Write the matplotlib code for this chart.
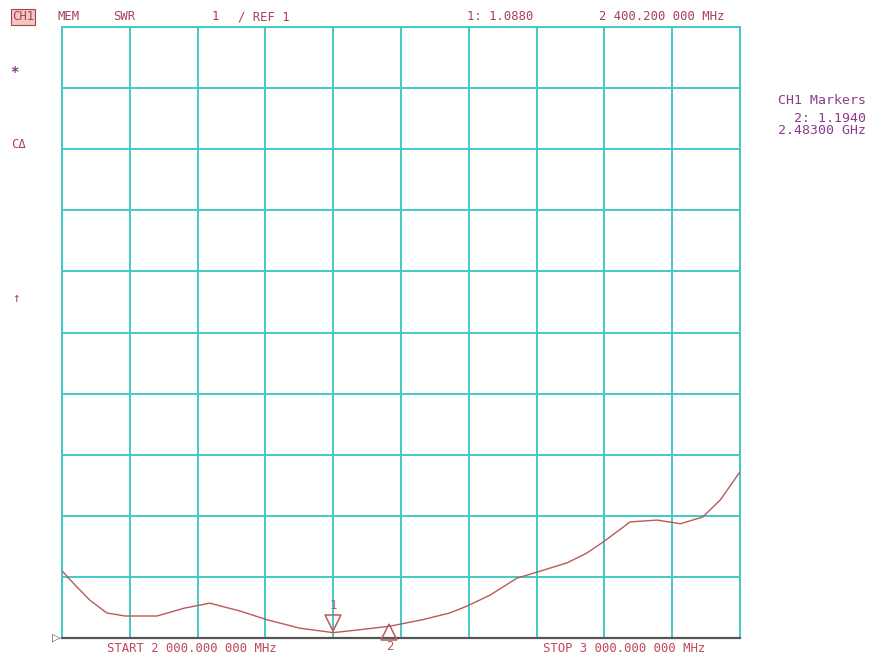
import numpy as np
import matplotlib
matplotlib.use('Agg')
import matplotlib.pyplot as plt

# SWR trace
freq_mhz = [2000, 2019, 2041, 2066, 2093, 2140, 2181, 2218, 2263, 2302, 2351,
            2400, 2435, 2484, 2532, 2572, 2597, 2631, 2671, 2701, 2745, 2774,
            2798, 2838, 2878, 2912, 2945, 2971, 3000]
swr = [2.10, 1.87, 1.62, 1.41, 1.36, 1.36, 1.49, 1.57, 1.44, 1.30, 1.16,
       1.088, 1.13, 1.194, 1.30, 1.41, 1.52, 1.70, 1.98, 2.08, 2.23, 2.39,
       2.57, 2.90, 2.93, 2.87, 2.98, 3.26, 3.72]

marker_freq = [2400.2, 2483.0]
marker_swr = [1.088, 1.194]

start_mhz, stop_mhz = 2000, 3000
ref_swr, per_div, n_div = 1, 1, 10

grid_c = '#45c8c8'
trace_c = '#b85a5a'
text_c = '#a8405c'
purple = '#8a3c8a'
mono = 'DejaVu Sans Mono'
fs = 8.8

fig = plt.figure(figsize=(8.8, 6.54), dpi=100)
ax = fig.add_axes([62 / 880, 16 / 654, 678 / 880, 611 / 654])

ax.set_xlim(start_mhz, stop_mhz)
ax.set_ylim(ref_swr, ref_swr + per_div * n_div)
ax.set_xticks(np.linspace(start_mhz, stop_mhz, n_div + 1))
ax.set_yticks(np.arange(ref_swr, ref_swr + per_div * n_div + 0.01, per_div))
ax.grid(True, color=grid_c, linewidth=1.4)
ax.tick_params(length=0, labelbottom=False, labelleft=False)
for side in ['top', 'left', 'right']:
    ax.spines[side].set_color(grid_c)
    ax.spines[side].set_linewidth(1.4)
ax.spines['bottom'].set_color('#555555')
ax.spines['bottom'].set_linewidth(1.6)
ax.spines['bottom'].set_zorder(5)

ax.plot(freq_mhz, swr, color=trace_c, linewidth=1.0, zorder=4)

# markers: 1 above the trace, 2 below
ax.plot(marker_freq[0], marker_swr[0] + 0.16, marker='v', markersize=11,
        markerfacecolor='none', markeredgecolor=trace_c, markeredgewidth=1.1,
        clip_on=False, zorder=6)
ax.text(marker_freq[0], marker_swr[0] + 0.44, '1', color=trace_c,
        fontsize=9, family=mono, ha='center', va='center', clip_on=False)
ax.plot(marker_freq[1], marker_swr[1] - 0.1, marker='^', markersize=11,
        markerfacecolor='none', markeredgecolor=trace_c, markeredgewidth=1.1,
        clip_on=False, zorder=6)
ax.text(marker_freq[1], marker_swr[1] - 0.33, '2', color=trace_c,
        fontsize=9, family=mono, ha='center', va='center', clip_on=False)

# reference pointer
fig.text(56 / 880, 1 - 638 / 654, '▷', color='#555555', fontsize=8,
         ha='center', va='center')

# header line
def top(x, s, ha='left', **kw):
    fig.text(x / 880, 1 - 17 / 654, s, color=text_c, fontsize=fs,
             family=mono, va='center', ha=ha, **kw)

top(12, 'CH1', bbox=dict(boxstyle='square,pad=0.1', facecolor='#f0c8c0',
                          edgecolor=text_c, linewidth=0.8))
top(57, 'MEM')
top(113, 'SWR')
top(212, '1')
top(238, '/ REF 1')
top(500, '1: 1.0880', ha='center')
top(662, '2 400.200 000 MHz', ha='center')

# left annotations
fig.text(14 / 880, 1 - 72 / 654, '*', color=purple, fontsize=10,
         family=mono, ha='center', va='center', weight='bold')
fig.text(18 / 880, 1 - 145 / 654, 'CΔ', color=text_c, fontsize=fs,
         family=mono, ha='center', va='center')
fig.text(16 / 880, 1 - 298 / 654, '↑', color=text_c, fontsize=9,
         family=mono, ha='center', va='center')

# marker readout
fig.text(822 / 880, 1 - 100 / 654, 'CH1 Markers', color=purple, fontsize=9.5,
         family=mono, ha='center', va='center')
fig.text(822 / 880, 1 - 118 / 654, '  2: 1.1940', color=purple, fontsize=9.5,
         family=mono, ha='center', va='center')
fig.text(822 / 880, 1 - 130 / 654, '2.48300 GHz', color=purple, fontsize=9.5,
         family=mono, ha='center', va='center')

# start / stop
fig.text(192 / 880, 1 - 648 / 654, 'START 2 000.000 000 MHz', color='#c04858',
         fontsize=fs, family=mono, va='center', ha='center')
fig.text(624 / 880, 1 - 648 / 654, 'STOP 3 000.000 000 MHz', color='#c04858',
         fontsize=fs, family=mono, va='center', ha='center')

fig.savefig('out.png', dpi=100, facecolor='white')
